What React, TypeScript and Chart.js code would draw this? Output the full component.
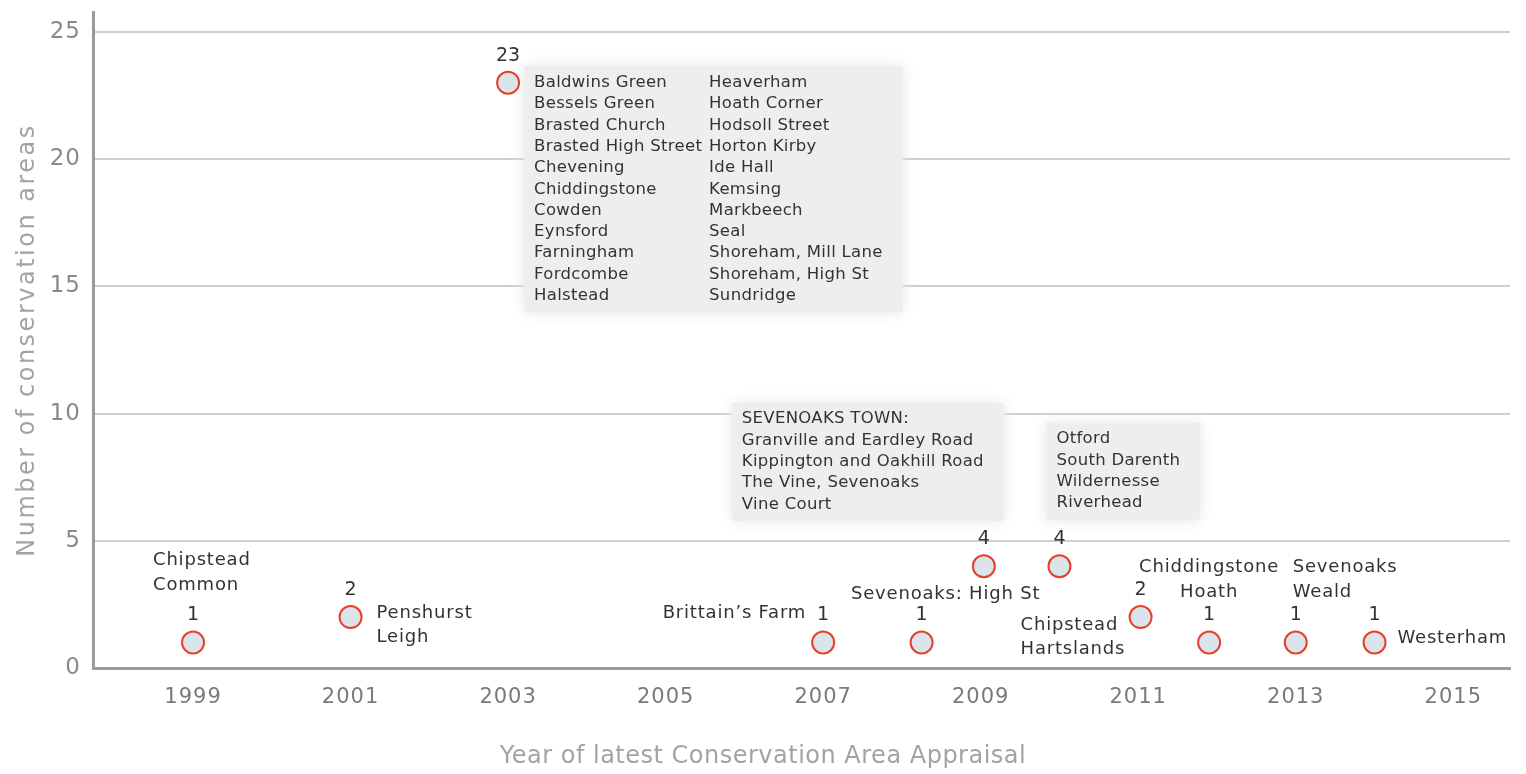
import React, { useEffect, useRef } from "react";
import { Chart, registerables } from "chart.js";

Chart.register(...registerables);

// ---------- data ----------
const years = [1999, 2001, 2003, 2007, 2008.25, 2009.04, 2010, 2011.03, 2011.9, 2013, 2014];
const counts = [1, 2, 23, 1, 1, 4, 4, 2, 1, 1, 1];
const xTickYears = [1999, 2001, 2003, 2005, 2007, 2009, 2011, 2013, 2015];
const yTickValues = [0, 5, 10, 15, 20, 25];

const areaNames: string[][] = [
  ["Chipstead", "Common"],
  ["Penshurst", "Leigh"],
  [
    "Baldwins Green", "Bessels Green", "Brasted Church", "Brasted High Street", "Chevening",
    "Chiddingstone", "Cowden", "Eynsford", "Farningham", "Fordcombe", "Halstead",
    "Heaverham", "Hoath Corner", "Hodsoll Street", "Horton Kirby", "Ide Hall",
    "Kemsing", "Markbeech", "Seal", "Shoreham, Mill Lane", "Shoreham, High St", "Sundridge",
  ],
  ["Brittain\u2019s Farm"],
  ["Sevenoaks: High St"],
  ["SEVENOAKS TOWN:", "Granville and Eardley Road", "Kippington and Oakhill Road", "The Vine, Sevenoaks", "Vine Court"],
  ["Otford", "South Darenth", "Wildernesse", "Riverhead"],
  ["Chipstead", "Hartslands"],
  ["Chiddingstone", "Hoath"],
  ["Sevenoaks", "Weald"],
  ["Westerham"],
];

const xTitle = "Year of latest Conservation Area Appraisal";
const yTitle = "Number of conservation areas";

// ---------- label layout (offsets from each point, in px) ----------
type Lay = {
  dx: number;
  dy: number;
  align: CanvasTextAlign;
  list?: boolean;
  perCol?: number;
  colGap?: number;
  box?: boolean;
};
const layouts: Lay[] = [
  { dx: -40, dy: -82, align: "left" },
  { dx: 26, dy: -4, align: "left" },
  { dx: 26, dy: 0, align: "left", list: true, perCol: 11, colGap: 175, box: true },
  { dx: -17, dy: -29, align: "right" },
  { dx: 24, dy: -48, align: "center" },
  { dx: -242, dy: -147, align: "left", list: true, box: true },
  { dx: -3, dy: -127, align: "left", list: true, box: true },
  { dx: -120, dy: 8, align: "left" },
  { dx: 0, dy: -75, align: "center" },
  { dx: -3, dy: -75, align: "left" },
  { dx: 23, dy: -4, align: "left" },
];

const FONT = "DejaVu Sans";
const TEXT = "#333333";
const LABEL_FONT = `18px "${FONT}"`;
const VALUE_FONT = `19px "${FONT}"`;
const LABEL_SPACING = "0.8px";
const LABEL_LH = 24.5;
const LIST_FONT = `16.5px "${FONT}"`;
const LIST_SPACING = "0.3px";
const LIST_LH = 21.3;
const VALUE_DY = -27;

function annotationPlugin() {
  const pts = (chart: any) => chart.getDatasetMeta(0).data as any[];

  const listBox = (ctx: any, i: number, px: number, py: number) => {
    const lay = layouts[i];
    const names = areaNames[i];
    const per = lay.perCol ?? names.length;
    ctx.font = LIST_FONT;
    ctx.letterSpacing = LIST_SPACING;
    let maxRight = 0;
    for (let k = 0; k < names.length; k++) {
      const col = Math.floor(k / per);
      const w = ctx.measureText(names[k]).width + col * (lay.colGap ?? 0);
      if (w > maxRight) maxRight = w;
    }
    const left = px + lay.dx;
    const top = py + lay.dy - LIST_LH / 2;
    return { left, top, width: maxRight, height: Math.min(per, names.length) * LIST_LH };
  };

  return {
    id: "annot",
    beforeDraw(chart: any) {
      (chart.ctx as any).letterSpacing = "1px";
    },
    beforeDatasetsDraw(chart: any) {
      const ctx: any = chart.ctx;
      pts(chart).forEach((p: any, i: number) => {
        const lay = layouts[i];
        if (!lay || !lay.box) return;
        ctx.save();
        const b = listBox(ctx, i, p.x, p.y);
        ctx.fillStyle = "#eceef0";
        ctx.shadowColor = "#e4e6e8";
        ctx.shadowBlur = 14;
        ctx.fillRect(b.left - 10, b.top - 6, b.width + 30, b.height + 12);
        ctx.restore();
      });
    },
    afterDatasetsDraw(chart: any) {
      const ctx: any = chart.ctx;
      ctx.save();
      ctx.textBaseline = "middle";
      ctx.fillStyle = TEXT;
      pts(chart).forEach((p: any, i: number) => {
        const px = p.x;
        const py = p.y;
        // value label
        ctx.font = VALUE_FONT;
        ctx.letterSpacing = "0px";
        ctx.textAlign = "center";
        ctx.fillText(String(counts[i]), px, py + VALUE_DY);
        // names
        const lay = layouts[i];
        const names = areaNames[i];
        if (lay.list) {
          const per = lay.perCol ?? names.length;
          ctx.font = LIST_FONT;
          ctx.letterSpacing = LIST_SPACING;
          ctx.textAlign = lay.align;
          names.forEach((n, k) => {
            const col = Math.floor(k / per);
            const row = k % per;
            ctx.fillText(n, px + lay.dx + col * (lay.colGap ?? 0), py + lay.dy + row * LIST_LH);
          });
        } else {
          ctx.font = LABEL_FONT;
          ctx.letterSpacing = LABEL_SPACING;
          ctx.textAlign = lay.align;
          names.forEach((n, k) => {
            ctx.fillText(n, px + lay.dx, py + lay.dy + k * LABEL_LH);
          });
        }
      });
      // axis titles
      const ca = chart.chartArea;
      ctx.fillStyle = "#a3a3a3";
      ctx.textAlign = "center";
      ctx.font = `24px "${FONT}"`;
      ctx.letterSpacing = "0.5px";
      ctx.fillText(xTitle, chart.width / 2, ca.bottom + 89);
      ctx.save();
      ctx.translate(28, (ca.top + ca.bottom) / 2);
      ctx.rotate(-Math.PI / 2);
      ctx.font = `24px "${FONT}"`;
      ctx.letterSpacing = "2.5px";
      ctx.fillText(yTitle, 0, 0);
      ctx.restore();
      ctx.restore();
    },
    afterDraw(chart: any) {
      (chart.ctx as any).letterSpacing = "0px";
    },
  };
}

export default function App() {
  const ref = useRef<HTMLCanvasElement | null>(null);

  useEffect(() => {
    if (!ref.current) return;
    Chart.defaults.font.family = FONT;
    const chart = new Chart(ref.current, {
      type: "scatter",
      data: {
        datasets: [
          {
            data: years.map((y, i) => ({ x: y, y: counts[i] })),
            pointRadius: 11,
            pointHoverRadius: 11,
            pointBorderWidth: 2,
            pointBorderColor: "#e5402b",
            pointBackgroundColor: "#dbe4ea",
          },
        ],
      },
      options: {
        responsive: false,
        animation: false,
        events: [],
        layout: { autoPadding: false, padding: { left: 0, right: 16, top: 12, bottom: 0 } },
        plugins: { legend: { display: false }, tooltip: { enabled: false } },
        scales: {
          x: {
            type: "linear",
            min: 1997.73,
            max: 2015.72,
            afterBuildTicks: (s: any) => {
              s.ticks = xTickYears.map((v) => ({ value: v }));
            },
            afterFit: (s: any) => {
              s.height = 106;
              s.paddingLeft = 0;
              s.paddingRight = 0;
            },
            grid: { display: false, drawTicks: false },
            border: { display: true, color: "#9a9a9a", width: 3 },
            ticks: {
              color: "#7a7a7a",
              font: { size: 21 },
              padding: 17,
              callback: (v: any) => String(v),
            },
          },
          y: {
            type: "linear",
            min: 0,
            max: 25.78,
            afterBuildTicks: (s: any) => {
              s.ticks = yTickValues.map((v) => ({ value: v }));
            },
            afterFit: (s: any) => {
              s.width = 93;
              s.paddingTop = 0;
              s.paddingBottom = 0;
            },
            grid: { color: "#cfcfcf", lineWidth: 2, drawTicks: false },
            border: { display: true, color: "#9a9a9a", width: 3 },
            ticks: {
              color: "#8a8a8a",
              font: { size: 23 },
              padding: 12,
              callback: (v: any) => String(v),
            },
          },
        },
      },
      plugins: [annotationPlugin()],
    });
    return () => chart.destroy();
  }, []);

  return (
    <div style={{ position: "fixed", left: 0, top: 0, width: 1526, height: 774, background: "#fff" }}>
      <canvas ref={ref} width={1526} height={774} style={{ width: 1526, height: 774 }} />
    </div>
  );
}
